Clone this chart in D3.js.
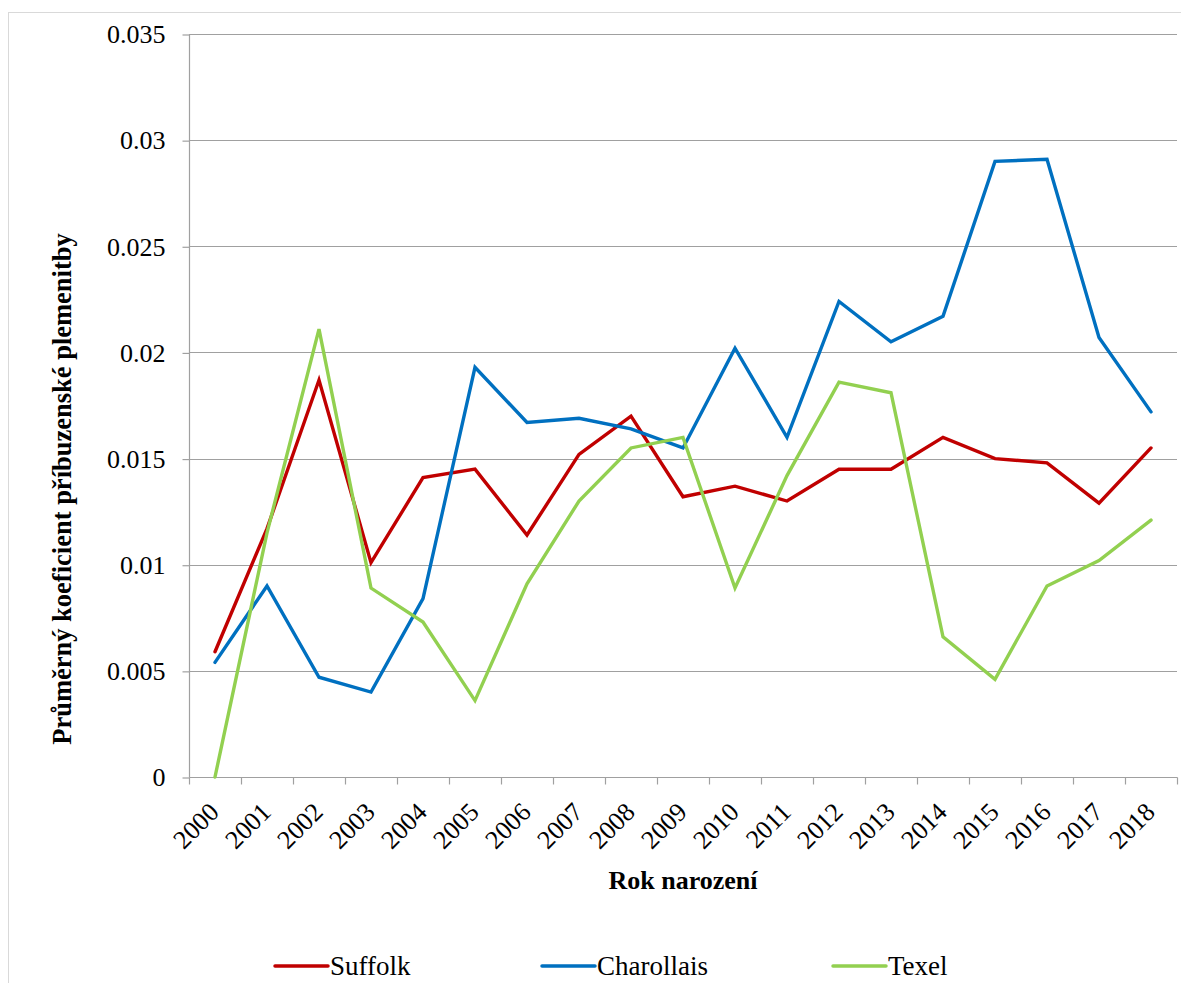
<!DOCTYPE html>
<html>
<head>
<meta charset="utf-8">
<script src="https://cdn.jsdelivr.net/npm/d3@7"></script>
<style>
  html, body { margin: 0; padding: 0; background: #fff; }
  svg { display: block; font-family: "Liberation Serif", "Times New Roman", serif; }
</style>
</head>
<body>
<svg id="chart" width="1181" height="983"></svg>
<script>
// Birth years (category axis)
const years = ["2000","2001","2002","2003","2004","2005","2006","2007","2008","2009",
               "2010","2011","2012","2013","2014","2015","2016","2017","2018"];

// Mean inbreeding coefficient per breed
const suffolk = [0.0059, 0.0117, 0.0187, 0.0101, 0.0141, 0.0145, 0.0114, 0.0152, 0.0170, 0.0132,
                 0.0137, 0.0130, 0.0145, 0.0145, 0.0160, 0.0150, 0.0148, 0.0129, 0.0155];
const charollais = [0.0054, 0.0090, 0.0047, 0.0040, 0.0084, 0.0193, 0.0167, 0.0169, 0.0164, 0.0155,
                    0.0202, 0.0160, 0.0224, 0.0205, 0.0217, 0.0290, 0.0291, 0.0207, 0.0172];
const texel = [0.0000, 0.0115, 0.0211, 0.0089, 0.0073, 0.0036, 0.0091, 0.0130, 0.0155, 0.0160,
               0.0089, 0.0142, 0.0186, 0.0181, 0.0066, 0.0046, 0.0090, 0.0102, 0.0121];

// Value axis ticks
const yTicks = [0, 0.005, 0.01, 0.015, 0.02, 0.025, 0.03, 0.035];
const yTickLabels = ["0", "0.005", "0.01", "0.015", "0.02", "0.025", "0.03", "0.035"];

const seriesNames = ["Suffolk", "Charollais", "Texel"];
const seriesValues = [suffolk, charollais, texel];
const seriesColors = ["#C00000", "#0070C0", "#92D050"];

const FONT = "\"Liberation Serif\", \"Times New Roman\", serif";
const svg = d3.select("#chart");

// chart frame
svg.append("rect")
  .attr("x", 8.5).attr("y", 12.5)
  .attr("width", 1200).attr("height", 1000)
  .attr("fill", "none").attr("stroke", "#d9d9d9").attr("stroke-width", 1);

const plot = { left: 189, right: 1177, top: 34, bottom: 777 };

const x = d3.scaleBand().domain(years).range([plot.left, plot.right]).padding(0);
const y = d3.scaleLinear().domain([0, 0.035]).range([plot.bottom, plot.top]);
const cx = d => x(d) + x.bandwidth() / 2;

// horizontal gridlines
svg.append("g")
  .selectAll("line")
  .data(yTicks.filter(t => t > 0))
  .join("line")
  .attr("x1", plot.left).attr("x2", plot.right)
  .attr("y1", d => Math.round(y(d)) + 0.5).attr("y2", d => Math.round(y(d)) + 0.5)
  .attr("stroke", "#a0a0a0").attr("stroke-width", 1.2);

// value axis
const yAxis = d3.axisLeft(y)
  .tickValues(yTicks)
  .tickFormat((d, i) => yTickLabels[i])
  .tickSize(7)
  .tickPadding(17);
const gy = svg.append("g")
  .attr("transform", `translate(${plot.left + 0.5},0.5)`)
  .call(yAxis);
gy.select(".domain").attr("stroke", "#a0a0a0").attr("stroke-width", 1.2).attr("d", `M0,${plot.top}V${plot.bottom}`);
gy.selectAll(".tick line").attr("stroke", "#a0a0a0").attr("stroke-width", 1.2);
gy.selectAll(".tick text")
  .attr("font-size", 26)
  .attr("fill", "#000")
  .attr("font-family", FONT);

// category axis
const gx = svg.append("g")
  .attr("transform", `translate(0.5,${plot.bottom + 0.5})`);
gx.append("line")
  .attr("x1", plot.left).attr("x2", plot.right)
  .attr("stroke", "#a0a0a0").attr("stroke-width", 1.2);
const boundaries = years.map(d => x(d)).concat([plot.right]);
gx.selectAll("line.tk")
  .data(boundaries)
  .join("line")
  .attr("class", "tk")
  .attr("x1", d => Math.round(d)).attr("x2", d => Math.round(d))
  .attr("y1", 0).attr("y2", 7)
  .attr("stroke", "#a0a0a0").attr("stroke-width", 1.2);
gx.selectAll("text")
  .data(years)
  .join("text")
  .attr("transform", d => `translate(${cx(d) + 5},${36}) rotate(-45)`)
  .attr("text-anchor", "end")
  .attr("font-size", 26)
  .attr("font-family", FONT)
  .attr("fill", "#000")
  .text(d => d);

// series lines
const line = d3.line()
  .x((d, i) => cx(years[i]))
  .y(d => y(d));

seriesValues.forEach((vals, k) => {
  svg.append("path")
    .datum(vals)
    .attr("d", line)
    .attr("fill", "none")
    .attr("stroke", seriesColors[k])
    .attr("stroke-width", 3.4)
    .attr("stroke-linejoin", "miter")
    .attr("stroke-linecap", "round");
});

// axis titles
svg.append("text")
  .attr("x", 683).attr("y", 889)
  .attr("text-anchor", "middle")
  .attr("font-family", FONT)
  .attr("font-size", 26).attr("font-weight", "bold")
  .text("Rok narození");

svg.append("text")
  .attr("transform", `translate(71,489) rotate(-90)`)
  .attr("text-anchor", "middle")
  .attr("font-family", FONT)
  .attr("font-size", 26.5).attr("font-weight", "bold")
  .text("Průměrný koeficient příbuzenské plemenitby");

// legend
const legendX = [275, 542, 833];
const lg = svg.append("g");
seriesNames.forEach((name, k) => {
  const g = lg.append("g").attr("transform", `translate(${legendX[k]},966)`);
  g.append("line")
    .attr("x1", 0).attr("x2", 53)
    .attr("stroke", seriesColors[k]).attr("stroke-width", 3.5)
    .attr("stroke-linecap", "round");
  g.append("text")
    .attr("x", 55).attr("y", 9)
    .attr("font-family", FONT)
    .attr("font-size", 27)
    .attr("fill", "#000")
    .text(name);
});
</script>
</body>
</html>
